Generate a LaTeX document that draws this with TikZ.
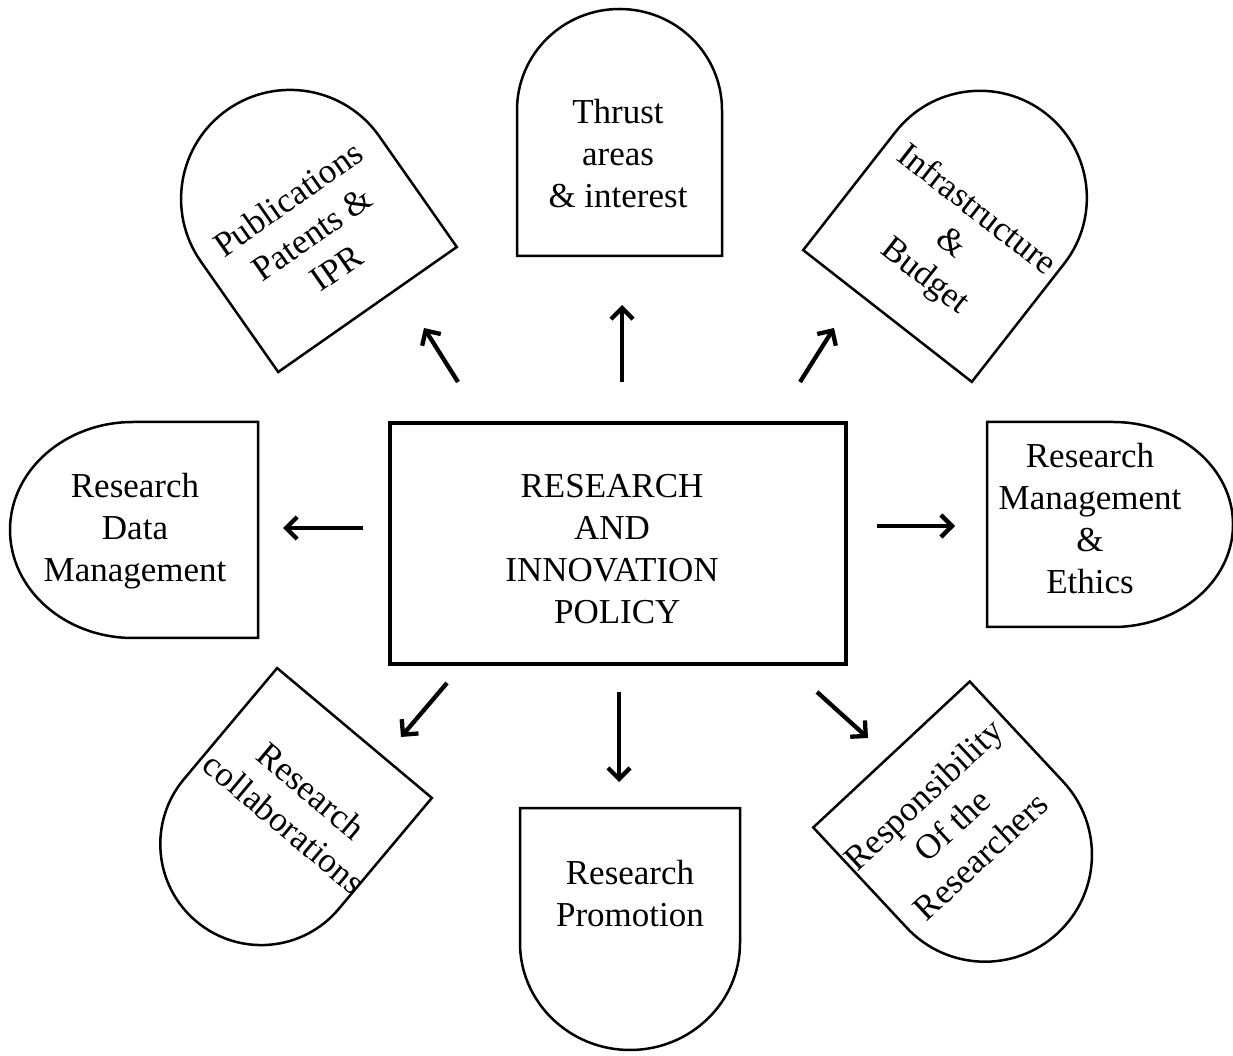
\documentclass[tikz,border=0pt]{standalone}
\usepackage{fontspec}
\setmainfont{Liberation Serif}
\usetikzlibrary{arrows.meta}
\newcommand\tombpath[6]{\draw[outline,shift={(#1,#2)},rotate=#3] (-#4,0) -- (#4,0) -- (#4,#5) arc[start angle=0,end angle=180,x radius=#4,y radius=#6] -- cycle;}
\begin{document}
\begin{tikzpicture}[x=1pt,y=1pt,
  outline/.style={draw=black,line width=2.5pt,line join=miter},
  lbl/.style={font=\fontsize{35}{42}\selectfont,align=center,inner sep=0pt},
  arr/.style={line width=4.3pt,-{Straight Barb[length=11pt,width=22pt]}},
  mainbox/.style={draw=black,line width=4.8pt,minimum width=456pt,minimum height=241pt,inner sep=0pt}]
\useasboundingbox (0,0) rectangle (1233,1055);
% central box
\node[mainbox] (core) at (618,511.5) {};
\node[lbl] (coretext) at (612,506) {RESEARCH\\AND\\INNOVATION\\\hspace*{0.3em}POLICY};
% outlines
\tombpath{367.5}{745.5}{35}{109}{135}{109}
\tombpath{619.5}{799}{0}{102.5}{146}{101}
\tombpath{887.5}{739}{-38}{107}{150}{107}
\tombpath{258}{525}{90}{108}{125}{123}
\tombpath{987}{530.5}{-90}{102.5}{126}{120}
\tombpath{354.5}{322}{140}{101}{145}{101}
\tombpath{630}{247}{180}{110}{135}{107}
\tombpath{891.5}{300.5}{-137}{107}{137}{107}
% labels
\node[lbl,rotate=35] (pub) at (312,822) {Publications\\Patents \&\\IPR};
\node[lbl] (thr) at (618,901) {Thrust\\areas\\\& interest};
\node[lbl,rotate=-38] (inf) at (950,811) {Infrastructure\\\&\\Budget};
\node[lbl] (rdm) at (135,524) {Research\\Data\\Management};
\node[lbl] (rme) at (1090,536.5) {Research\\Management\\\&\\Ethics};
\node[lbl,rotate=-40] (rco) at (298,248) {Research\\collaborations};
\node[lbl] (rpr) at (630,161) {Research\\Promotion};
\node[lbl,rotate=43] (rre) at (952,230) {Responsibility\\Of the\\Researchers};
% arrow ends
\coordinate (a1s) at (458,673); \coordinate (a1e) at (424,727);
\coordinate (a2s) at (622,673); \coordinate (a2e) at (622,750);
\coordinate (a3s) at (800,673); \coordinate (a3e) at (834,727);
\coordinate (a4s) at (363,527); \coordinate (a4e) at (283,527);
\coordinate (a5s) at (877,529); \coordinate (a5e) at (955,529);
\coordinate (a6s) at (447,372); \coordinate (a6e) at (401,318);
\coordinate (a7s) at (619,363); \coordinate (a7e) at (619,273);
\coordinate (a8s) at (817,363); \coordinate (a8e) at (868,317);
\foreach \i in {1,...,8} \draw[arr] (a\i s) -- (a\i e);
\end{tikzpicture}
\end{document}
